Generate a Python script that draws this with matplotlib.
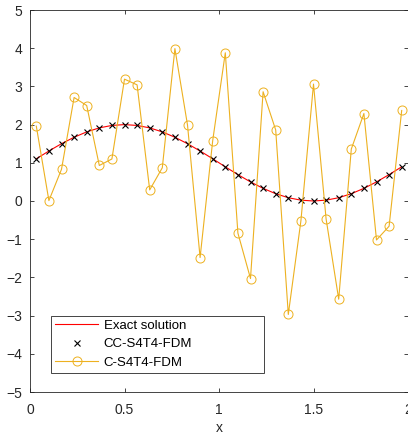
import numpy as np
import matplotlib
matplotlib.use("Agg")
import matplotlib.pyplot as plt

# grid points (cell centres on [0, 2])
x_pts = [(2 * k + 1) / 30 for k in range(30)]

# exact solution / CC-S4T4-FDM values read at the grid points
exact_vals = [1.105, 1.309, 1.500, 1.669, 1.809, 1.914, 1.978, 2.000, 1.978, 1.914,
              1.809, 1.669, 1.500, 1.309, 1.105, 0.895, 0.691, 0.500, 0.331, 0.191,
              0.086, 0.022, 0.000, 0.022, 0.086, 0.191, 0.331, 0.500, 0.691, 0.895]
cc_vals = exact_vals

# C-S4T4-FDM (oscillating) values
c_vals = [1.96, 0.01, 0.83, 2.71, 2.50, 0.93, 1.10, 3.19, 3.04, 0.29,
          0.87, 3.99, 1.99, -1.48, 1.58, 3.88, -0.84, -2.03, 2.86, 1.86,
          -2.97, -0.52, 3.06, -0.47, -2.57, 1.36, 2.29, -1.02, -0.66, 2.37]

labels = ["Exact solution", "CC-S4T4-FDM", "C-S4T4-FDM"]
xticks = [0, 0.5, 1, 1.5, 2]
yticks = list(range(-5, 6))

plt.rcParams['font.family'] = ['Liberation Sans', 'DejaVu Sans']
plt.rcParams['font.size'] = 10

W, H = 408, 438
fig = plt.figure(figsize=(W / 100, H / 100), dpi=100)
ax = fig.add_axes([30 / W, (H - 392) / H, 378 / W, 382 / H])

dark = "#262626"
ax.plot(x_pts, exact_vals, color="red", lw=0.8, label=labels[0])
ax.plot(x_pts, cc_vals, ls="none", marker="x", color="black", ms=4.5, mew=0.8,
        label=labels[1])
ax.plot(x_pts, c_vals, color="#EDB120", lw=0.8, marker="o", ms=6.5, mfc="none",
        mew=0.7, label=labels[2])

ax.set_xlim(0, 2)
ax.set_ylim(-5, 5)
ax.set_xticks(xticks)
ax.set_xticklabels(["0", "0.5", "1", "1.5", "2"])
ax.set_yticks(yticks)
ax.tick_params(direction="in", top=True, right=True, length=3, width=0.6,
               colors=dark, labelcolor=dark)
ax.tick_params(axis="x", pad=8)
ax.tick_params(axis="y", pad=5.5)
for s in ax.spines.values():
    s.set_color(dark)
    s.set_linewidth(0.6)
ax.set_xlabel("x", color=dark, labelpad=3)

leg = ax.legend(loc="lower left", bbox_to_anchor=(0.055, 0.05, 0.564, 0.15),
                mode="expand", fancybox=False, framealpha=1, edgecolor=dark,
                fontsize=9.5, borderpad=0.3, labelspacing=0.48, handlelength=3.3,
                handletextpad=0.4, borderaxespad=0)
leg.get_frame().set_linewidth(0.6)

fig.savefig("out.png", dpi=100)
